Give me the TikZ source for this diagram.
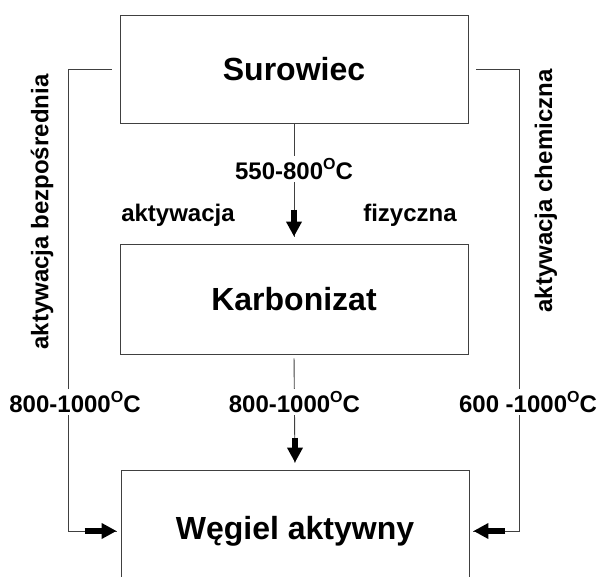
\documentclass[tikz,border=0pt]{standalone}
\usepackage{fontspec}
\setmainfont{Liberation Sans}
\usepackage{tikz}
\usetikzlibrary{arrows.meta,positioning,calc}

\newcommand{\tempC}[1]{#1\raisebox{0.45em}{\fontsize{16}{16}\selectfont O}C}

\begin{document}
\begin{tikzpicture}[x=1pt,y=1pt,
  box/.style={rectangle, draw=black!75, line width=0.9pt, minimum width=348pt,
    font=\fontsize{32}{36}\selectfont\bfseries},
  lbl/.style={font=\fontsize{24}{28}\selectfont\bfseries, inner sep=2pt},
  gap/.style={lbl, fill=white},
  flow/.style={draw=black!75, line width=0.9pt},
  fat/.style={line width=5.5pt, -{Triangle[length=15pt,width=15pt]}}
]
\useasboundingbox (0,0) rectangle (600,576);
\clip (0,0) rectangle (600,576);

% Boxes
\node[box, minimum height=108pt] (sur) at (294,507) {Surowiec};
\node[box, minimum height=110pt] (kar) at (294,277) {Karbonizat};
\node[box, minimum height=122pt] (weg) at (295,45)  {Węgiel aktywny};

% Side routes
\coordinate (lx) at (68,0);
\coordinate (rx) at (519,0);
\draw[flow, shorten <=8pt, shorten >=4pt] (sur.west) -| (lx |- weg.west) -- (weg.west);
\draw[flow, shorten <=8pt, shorten >=4pt] (sur.east) -| (rx |- weg.east) -- (weg.east);
\draw[fat] ([xshift=-36pt]weg.west) -- ([xshift=-4pt]weg.west);
\draw[fat] ([xshift=36pt]weg.east) -- ([xshift=4pt]weg.east);
\node[gap] (tl) at (75,174)  {\tempC{800-1000}};
\node[gap] (tr) at (528,174) {\tempC{600 -1000}};

% Middle route
\draw[flow, shorten >=7pt] (sur.south) -- node[gap, pos=0.38] (t1) {\tempC{550-800}} (kar.north);
\draw[fat] ([yshift=34pt]kar.north) -- ([yshift=7pt]kar.north);
\draw[flow, shorten <=4pt, shorten >=7pt] (kar.south) -- node[gap, pos=0.414] (t2) {\tempC{800-1000}} (weg.north);
\draw[fat] ([yshift=32pt]weg.north) -- ([yshift=7pt]weg.north);

% Route names
\node[lbl] (akt) at (178,361) {aktywacja};
\node[lbl] (fiz) at (410,361) {fizyczna};
\node[lbl, rotate=90] (bez) at (42,364)  {aktywacja bezpośrednia};
\node[lbl, rotate=90] (chem) at (546,385) {aktywacja chemiczna};
\end{tikzpicture}
\end{document}
